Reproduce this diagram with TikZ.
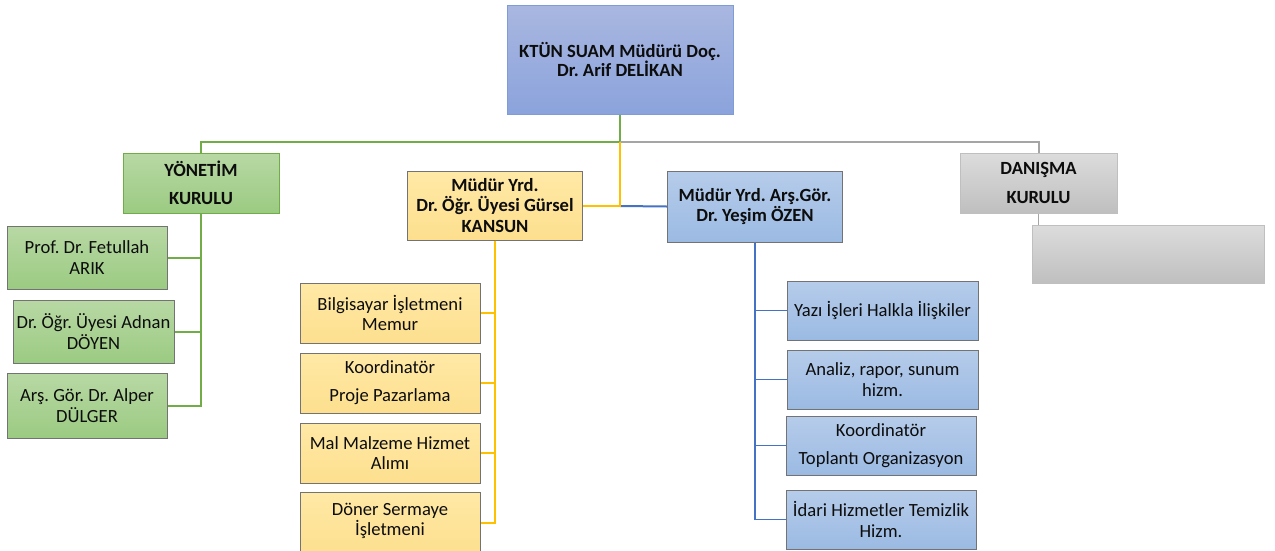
\documentclass[tikz,border=0pt]{standalone}
\usepackage{fontspec}
\setmainfont{Carlito}
\frenchspacing
\begin{document}
\begin{tikzpicture}[x=1pt,y=-1pt,
  txt/.style={align=center,inner sep=0pt,text=black!95,font=\frenchspacing\fontsize{18.6}{20.5}\selectfont},
  btxt/.style={align=center,inner sep=0pt,text=black!95,font=\frenchspacing\bfseries\fontsize{18.6}{20.5}\selectfont},
  topbox/.style={btxt,draw=tbd,line width=1pt,top color=tb1,bottom color=tb2},
  gbox/.style={txt,draw=gray!90!black,line width=1pt,top color=gr1,bottom color=gr2},
  ybox/.style={txt,draw=gray!90!black,line width=1pt,top color=ye1,bottom color=ye2},
  bbox/.style={txt,draw=gray!90!black,line width=1pt,top color=bl1,bottom color=bl2},
  kbox/.style={btxt,draw=gray!50,line width=1pt,top color=gy1,bottom color=gy2},
  gline/.style={draw=lgreen,line width=2.2pt},
  yline/.style={draw=lyellow,line width=2pt},
  bline/.style={draw=lblue,line width=2pt},
  kline/.style={draw=lgray,line width=2pt},
  gsub/.style={draw=lgreen,line width=2pt},
  ysub/.style={draw=lyellow,line width=2pt},
  bsub/.style={draw=lblue,line width=1.6pt},
]
\definecolor{tb1}{HTML}{A9B7E0}
\definecolor{tb2}{HTML}{8BA3DC}
\definecolor{tbd}{HTML}{7F9BD8}
\definecolor{gr1}{HTML}{B8D8A4}
\definecolor{gr2}{HTML}{9BCB82}
\definecolor{ye1}{HTML}{FFE9A6}
\definecolor{ye2}{HTML}{FDDF8E}
\definecolor{bl1}{HTML}{B6CCEA}
\definecolor{bl2}{HTML}{9BBAE3}
\definecolor{gy1}{HTML}{DCDCDC}
\definecolor{gy2}{HTML}{BFBFBF}
\definecolor{lgreen}{HTML}{70AD47}
\definecolor{lyellow}{HTML}{FFC000}
\definecolor{lblue}{HTML}{4472C4}
\definecolor{lgray}{HTML}{A5A5A5}
\useasboundingbox[fill=white] (0,0) rectangle (1275,550);

% top
\node[topbox,minimum width=226,minimum height=109,font=\frenchspacing\bfseries\fontsize{18.6}{19.5}\selectfont] (top) at (620,59.5) {KTÜN SUAM Müdürü Doç.\\Dr. Arif DELİKAN};

% second level
\node[gbox,btxt,draw=lgreen,minimum width=156,minimum height=60] (yon) at (201,183) {YÖNETİM\\[7.5pt]KURULU};
\node[ybox,btxt,minimum width=175,minimum height=69] (ym) at (495,205.5) {Müdür Yrd.\\Dr. Öğr. Üyesi Gürsel\\KANSUN};
\node[bbox,btxt,minimum width=175,minimum height=71] (bm) at (755,206.5) {Müdür Yrd. Arş.Gör.\\Dr. Yeşim ÖZEN};
\node[kbox,minimum width=157,minimum height=60] (dan) at (1038.5,183) {DANIŞMA\\[8pt]KURULU};

% green children
\node[gbox,minimum width=160,minimum height=63] (g1) at (87,257.5) {Prof. Dr. Fetullah\\ARIK};
\node[gbox,minimum width=161,minimum height=63] (g2) at (93.5,331.5) {Dr. Öğr. Üyesi Adnan\\DÖYEN};
\node[gbox,minimum width=160,minimum height=65] (g3) at (87,405.5) {Arş. Gör. Dr. Alper\\DÜLGER};

% yellow children
\node[ybox,minimum width=180,minimum height=60] (y1) at (390,313) {Bilgisayar İşletmeni\\Memur};
\node[ybox,minimum width=180,minimum height=60] (y2) at (390,383) {Koordinatör\\[7.5pt]Proje Pazarlama};
\node[ybox,minimum width=180,minimum height=60] (y3) at (390,453) {Mal Malzeme Hizmet\\Alımı};
\node[ybox,minimum width=180,minimum height=62] (y4) at (390,523) {};
\node[txt] (y4t) at (390,521) {Döner Sermaye\\İşletmeni};

% blue children
\node[bbox,minimum width=191,minimum height=59] (b1) at (882.5,310.5) {Yazı İşleri Halkla İlişkiler};
\node[bbox,minimum width=191,minimum height=59] (b2) at (882.5,379.5) {Analiz, rapor, sunum\\hizm.};
\node[bbox,minimum width=190,minimum height=59] (b3) at (881,445.5) {Koordinatör\\[7pt]Toplantı Organizasyon};
\node[bbox,minimum width=190,minimum height=59] (b4) at (881,519.5) {İdari Hizmetler Temizlik\\Hizm.};

% gray child
\node[kbox,minimum width=232,minimum height=58] (dc) at (1148,254) {};

% connectors from top
\coordinate (J) at (620,142);
\coordinate (J2) at (620,206);
\draw[gline] (top.south) -- (J);
\draw[gline] (J) -| (yon.north);
\draw[kline] (J) -| (dan.north);
\draw[bline] (J2) -- (bm.west);
\draw[yline] (J) |- (ym.east);

% green branch
\draw[gsub] (yon.south) |- (g1.east);
\draw[gsub] (yon.south) |- (g2.east);
\draw[gsub] (yon.south) |- (g3.east);

% yellow branch
\draw[ysub] (ym.south) |- (y1.east);
\draw[ysub] (ym.south) |- (y2.east);
\draw[ysub] (ym.south) |- (y3.east);
\draw[ysub] (ym.south) |- (y4.east);

% blue branch
\draw[bsub] (bm.south) |- (b1.west);
\draw[bsub] (bm.south) |- (b2.west);
\draw[bsub] (bm.south) |- (b3.west);
\draw[bsub] (bm.south) |- (b4.west);

% gray branch
\draw[kline,line width=1pt] (dan.south) -- (dan.south |- dc.north);
\end{tikzpicture}
\end{document}
